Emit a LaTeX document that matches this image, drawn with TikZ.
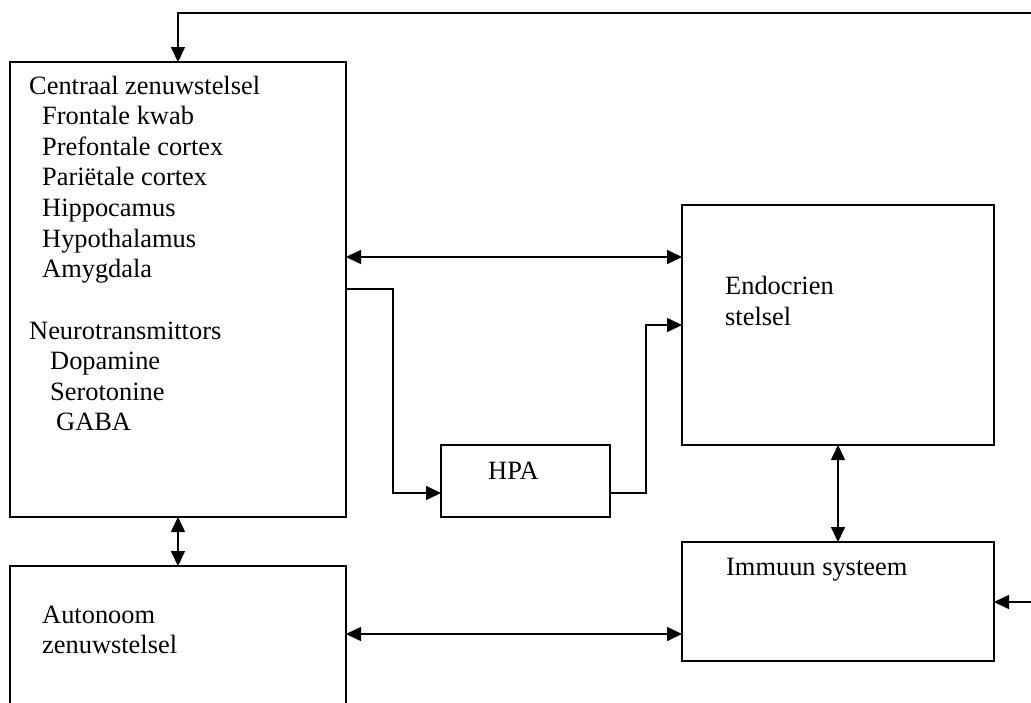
\documentclass[tikz,border=0pt]{standalone}
\usepackage{fontspec}
\setmainfont{Liberation Serif}
\usetikzlibrary{arrows.meta}
\begin{document}
\begin{tikzpicture}[x=1pt,y=-1pt,
  box/.style={draw, line width=1.6pt, inner sep=0pt, outer sep=0pt, anchor=north west},
  lbl/.style={anchor=base west, inner sep=0pt, font=\fontsize{26.4pt}{30.6pt}\selectfont},
  tip/.style={Triangle[length=15pt,width=14pt]},
  link/.style={line width=1.6pt, {Triangle[length=15pt,width=14pt]}-{Triangle[length=15pt,width=14pt]}},
  flow/.style={line width=1.6pt, -{Triangle[length=15pt,width=14pt]}}]
\useasboundingbox (0,0) rectangle (1031,702);
\clip (0,0) rectangle (1031,702);

% boxes
\node[box, minimum width=336pt, minimum height=455pt] (czs)  at (10,62)  {};
\node[box, minimum width=336pt, minimum height=200pt] (ans)  at (10,566) {};
\node[box, minimum width=169pt, minimum height=72pt]  (hpa)  at (441,445) {};
\node[box, minimum width=312pt, minimum height=240pt] (endo) at (682,205) {};
\node[box, minimum width=312pt, minimum height=119pt] (imm)  at (682,542) {};

% central nervous system contents
\foreach \n/\x/\y/\t in {
  c1/29/94/{Centraal zenuwstelsel},
  c2/42/124.6/{Frontale kwab},
  c3/42/155.2/{Prefontale cortex},
  c4/42/185.8/{Pariëtale cortex},
  c5/42/216.4/{Hippocamus},
  c6/42/247/{Hypothalamus},
  c7/42/277.6/{Amygdala},
  c8/29/339/{Neurotransmittors},
  c9/50/369.6/{Dopamine},
  c10/50/400.2/{Serotonine},
  c11/56/430.8/{GABA}}
  \node[lbl] (\n) at (\x,\y) {\t};

% other labels
\node[lbl] (endo1) at (725,294) {Endocrien};
\node[lbl] (endo2) at (725,325) {stelsel};
\node[lbl] (hpat)  at (488,479) {HPA};
\node[lbl] (immt)  at (726,575) {Immuun systeem};
\node[lbl] (ans1)  at (42,623) {Autonoom};
\node[lbl] (ans2)  at (42,653) {zenuwstelsel};

% connectors
\draw[link] (czs.east |- 0,257) -- (endo.west |- 0,257);
\draw[flow] (czs.east |- 0,289) -- (393,289) |- (hpa.west |- 0,493);
\draw[flow] (hpa.east |- 0,493) -- (646,493) |- (endo.west |- 0,325);
\draw[link] (endo.south) -- (imm.north);
\draw[link] (czs.south) -- (ans.north);
\draw[link] (ans.east |- 0,634) -- (imm.west |- 0,634);

% feedback loop leaving past the right edge
\coordinate (fbr) at (1050,602);
\coordinate (fbt) at (1050,13);
\draw[link] (imm.east |- fbr) -- (fbr) -- (fbt) -| (czs.north);
\end{tikzpicture}
\end{document}
